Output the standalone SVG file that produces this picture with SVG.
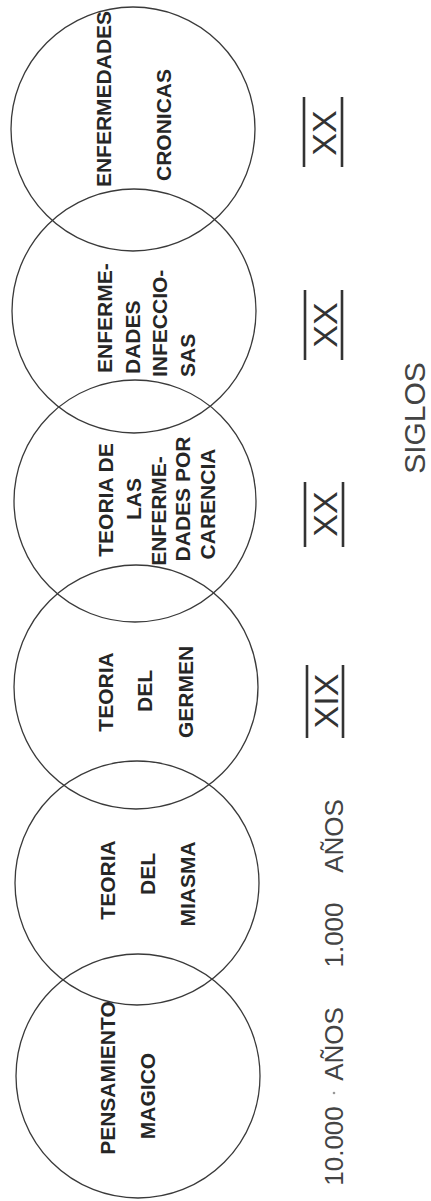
<svg xmlns="http://www.w3.org/2000/svg" width="431" height="1201" viewBox="0 0 431 1201">
<style>
.c{fill:none;stroke:#3a3a3a;stroke-width:1.3}
.t{font-family:"Liberation Sans",Arial,sans-serif;font-weight:bold;font-size:21px;fill:#262626;text-anchor:middle}
.s{text-anchor:start}
.r{font-family:"Liberation Sans",Arial,sans-serif;font-size:34px;fill:#333;text-anchor:middle}
.b{stroke:#333;stroke-width:2.6}
.y{font-family:"Liberation Sans",Arial,sans-serif;font-size:26px;fill:#444;text-anchor:middle}
.g{font-family:"Liberation Sans",Arial,sans-serif;font-size:30px;fill:#444;text-anchor:middle}
</style>
<rect width="431" height="1201" fill="#fff"/>
<g id="n1">
<circle class="c" cx="133" cy="129" r="122"/>
<text class="t" x="111" y="99" transform="rotate(-90 111 99)">ENFERMEDADES</text>
<text class="t" x="171" y="125" transform="rotate(-90 171 125)">CRONICAS</text>
</g>
<g id="n2">
<circle class="c" cx="134" cy="311" r="122"/>
<text class="t s" x="112" y="373" transform="rotate(-90 112 373)">ENFERME-</text>
<text class="t s" x="140" y="374" transform="rotate(-90 140 374)">DADES</text>
<text class="t s" x="167" y="377" transform="rotate(-90 167 377)">INFECCIO-</text>
<text class="t s" x="195" y="377" transform="rotate(-90 195 377)">SAS</text>
</g>
<g id="n3">
<circle class="c" cx="135" cy="501" r="121"/>
<text class="t" x="113" y="500" transform="rotate(-90 113 500)">TEORIA DE</text>
<text class="t" x="141" y="499" transform="rotate(-90 141 499)">LAS</text>
<text class="t" x="166" y="511" transform="rotate(-90 166 511)">ENFERME-</text>
<text class="t" x="190" y="499" transform="rotate(-90 190 499)">DADES  POR</text>
<text class="t" x="215" y="504" transform="rotate(-90 215 504)">CARENCIA</text>
</g>
<g id="n4">
<circle class="c" cx="136" cy="687" r="122"/>
<text class="t" x="113" y="692" transform="rotate(-90 113 692)">TEORIA</text>
<text class="t" x="152" y="691" transform="rotate(-90 152 691)">DEL</text>
<text class="t" x="193" y="692" transform="rotate(-90 193 692)">GERMEN</text>
</g>
<g id="n5">
<circle class="c" cx="137" cy="883" r="122"/>
<text class="t" x="115" y="880" transform="rotate(-90 115 880)">TEORIA</text>
<text class="t" x="155" y="874" transform="rotate(-90 155 874)">DEL</text>
<text class="t" x="195" y="884" transform="rotate(-90 195 884)">MIASMA</text>
</g>
<g id="n6">
<circle class="c" cx="138" cy="1076" r="122"/>
<text class="t" x="115" y="1078" transform="rotate(-90 115 1078)">PENSAMIENTO</text>
<text class="t" x="155" y="1096" transform="rotate(-90 155 1096)">MAGICO</text>
</g>
<g id="connectors"></g>
<g id="centuries">
<line class="b" x1="304" y1="97" x2="304" y2="167"/><line class="b" x1="342" y1="97" x2="342" y2="167"/>
<text class="r" x="336" y="133" transform="rotate(-90 336 133)">XX</text>
<line class="b" x1="305" y1="290" x2="305" y2="360"/><line class="b" x1="342" y1="290" x2="342" y2="360"/>
<text class="r" x="337" y="325" transform="rotate(-90 337 325)">XX</text>
<line class="b" x1="305" y1="482" x2="305" y2="547"/><line class="b" x1="343" y1="482" x2="343" y2="547"/>
<text class="r" x="337" y="514" transform="rotate(-90 337 514)">XX</text>
<line class="b" x1="307" y1="665" x2="307" y2="738"/><line class="b" x1="343" y1="665" x2="343" y2="738"/>
<text class="r" x="338" y="701" transform="rotate(-90 338 701)">XIX</text>
</g>
<g id="years">
<text class="y" x="343" y="836" transform="rotate(-90 343 836)">AÑOS</text>
<text class="y" x="343" y="935" transform="rotate(-90 343 935)">1.000</text>
<text class="y" x="343" y="1044" transform="rotate(-90 343 1044)">AÑOS</text>
<circle cx="334" cy="1093" r="1.3" fill="#999"/>
<text class="y" x="343" y="1146" transform="rotate(-90 343 1146)">10.000</text>
</g>
<text id="siglos" class="g" x="425" y="418" transform="rotate(-90 425 418)">SIGLOS</text>
</svg>
